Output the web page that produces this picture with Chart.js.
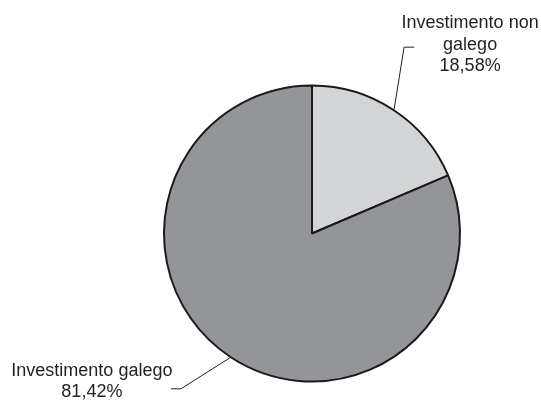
<!DOCTYPE html>
<html>
<head>
<meta charset="utf-8">
<script src="https://cdn.jsdelivr.net/npm/chart.js@4"></script>
<style>
  html, body { margin: 0; padding: 0; background: #fff; }
  #wrap { width: 541px; height: 402px; position: relative; }
</style>
</head>
<body>
<div id="wrap"><canvas id="chart"></canvas></div>
<script>
const categories = ['Investimento non galego', 'Investimento galego'];
const shares = [18.58, 81.42];
const labelLines = [['Investimento non', 'galego'], ['Investimento galego']];
const sliceColors = ['#d3d4d6', '#939598'];

// leader line elbow offsets from the slice edge, and text anchor from the elbow
const leaders = [
  { elbow: [10, -62], end: 10, text: [66, -19] },
  { elbow: [-49, 31], end: -10, text: [-89, -13] }
];

const fmt = v => v.toFixed(2).replace('.', ',') + '%';

const labelPlugin = {
  id: 'pieLabels',
  afterDraw(chart) {
    const ctx = chart.ctx;
    const meta = chart.getDatasetMeta(0);
    ctx.save();
    ctx.strokeStyle = '#231f20';
    ctx.lineWidth = 1;
    ctx.fillStyle = '#231f20';
    ctx.font = '18px "Liberation Sans", Arial, sans-serif';
    ctx.textAlign = 'center';
    ctx.textBaseline = 'alphabetic';
    meta.data.forEach((arc, i) => {
      const { x, y, startAngle, endAngle, outerRadius } = arc.getProps(['x', 'y', 'startAngle', 'endAngle', 'outerRadius'], true);
      const mid = (startAngle + endAngle) / 2;
      const sx = x + Math.cos(mid) * (outerRadius + 1);
      const sy = y + Math.sin(mid) * (outerRadius + 1);
      const l = leaders[i];
      const ex = sx + l.elbow[0], ey = sy + l.elbow[1];
      ctx.beginPath();
      ctx.moveTo(sx, sy);
      ctx.lineTo(ex, ey);
      ctx.lineTo(ex + l.end, ey);
      ctx.stroke();
      const lines = labelLines[i].concat([fmt(shares[i])]);
      lines.forEach((t, j) => {
        ctx.fillText(t, ex + l.text[0], ey + l.text[1] + j * 21.5);
      });
    });
    ctx.restore();
  }
};

new Chart(document.getElementById('chart'), {
  type: 'pie',
  data: {
    labels: categories,
    datasets: [{
      data: shares,
      backgroundColor: sliceColors,
      borderColor: '#1a1a1a',
      borderWidth: 2
    }]
  },
  options: {
    responsive: true,
    maintainAspectRatio: false,
    animation: false,
    radius: 148,
    layout: { padding: { left: 83, right: 0, top: 75, bottom: 10 } },
    plugins: {
      legend: { display: false },
      tooltip: { enabled: false }
    }
  },
  plugins: [labelPlugin]
});
</script>
</body>
</html>
